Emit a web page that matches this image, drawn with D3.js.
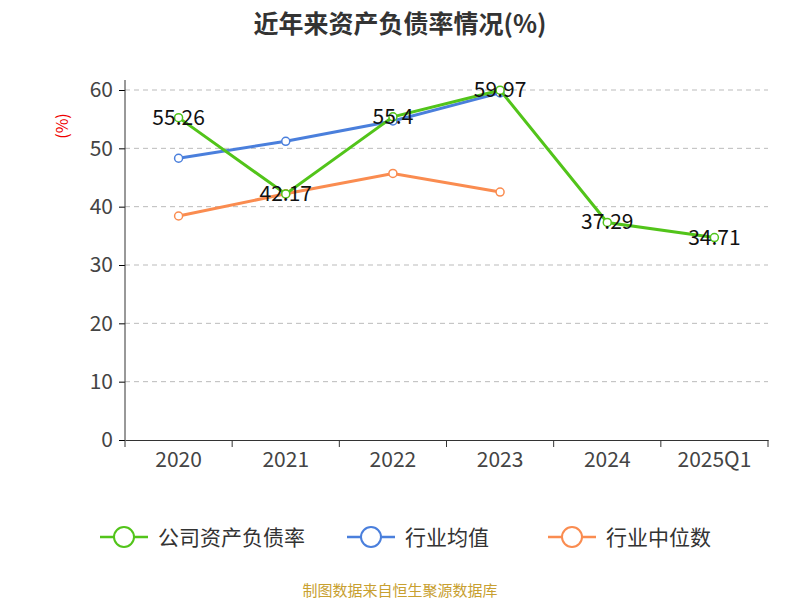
<!DOCTYPE html>
<html><head><meta charset="utf-8">
<script src="https://cdn.jsdelivr.net/npm/d3@7"></script>
<style>body{margin:0;background:#fff}text{font-family:"Noto Sans CJK SC","Noto Sans",sans-serif}</style>
</head><body><svg id="c" width="800" height="600"></svg>
<script>
const categories=["2020","2021","2022","2023","2024","2025Q1"];
const companyValues=[55.26,42.17,55.4,59.97,37.29,34.71];
const industryAvg=[48.3,51.2,54.7,59.5];
const industryMedian=[38.4,42.2,45.7,42.5];
const yTicks=[0,10,20,30,40,50,60];
const seriesNames=["公司资产负债率","行业均值","行业中位数"];
const colors=["#52c41a","#4a7fdc","#fa8c50"];

const svg=d3.select("#c");
const L=125,R=768,T=90,B=440;
const x=d3.scaleBand().domain(categories).range([L,R]);
const y=d3.scaleLinear().domain([0,60]).range([B,T]);
svg.append("text").attr("x",400).attr("y",33).attr("text-anchor","middle").attr("font-size",25).attr("font-weight","bold").attr("fill","#333").text("近年来资产负债率情况(%)");
svg.append("text").attr("transform","translate(68,126) rotate(-90)").attr("text-anchor","middle").attr("font-size",16).attr("fill","#e00").text("(%)");
yTicks.forEach(t=>{
 if(t>0) svg.append("line").attr("x1",L).attr("x2",R).attr("y1",y(t)).attr("y2",y(t)).attr("stroke","#bbb").attr("stroke-dasharray","5,4");
});
const ya=svg.append("g").attr("transform",`translate(${L},0)`).call(d3.axisLeft(y).tickValues(yTicks).tickSize(6).tickPadding(6));
ya.select(".domain").remove();
svg.append("line").attr("x1",L).attr("x2",L).attr("y1",T-10).attr("y2",B).attr("stroke","#333");
ya.selectAll("text").attr("font-size",21).attr("fill","#444");
const xa=svg.append("g").attr("transform",`translate(0,${B})`).call(d3.axisBottom(x).tickSizeOuter(0).tickSize(0).tickPadding(12));
xa.selectAll("text").attr("font-size",21).attr("fill","#444");
xa.select(".domain").attr("stroke","#333");
categories.concat([null]).forEach((c,i)=>{
 const xx=i<categories.length?x(c):R;
 svg.append("line").attr("x1",xx).attr("x2",xx).attr("y1",B).attr("y2",B+7).attr("stroke","#333");
});
const cx=(i)=>x(categories[i])+x.bandwidth()/2;
function series(vals,col){
 svg.append("path").datum(vals).attr("fill","none").attr("stroke",col).attr("stroke-width",3)
  .attr("d",d3.line().x((d,i)=>cx(i)).y(d=>y(d)));
 svg.selectAll(null).data(vals).enter().append("circle").attr("cx",(d,i)=>cx(i)).attr("cy",d=>y(d)).attr("r",4).attr("fill","#fff").attr("stroke",col).attr("stroke-width",1.5);
}
series(industryMedian,colors[2]);
series(industryAvg,colors[1]);
series(companyValues,colors[0]);
svg.selectAll(null).data(companyValues).enter().append("text").attr("x",(d,i)=>cx(i)).attr("y",d=>y(d)+7).attr("text-anchor","middle").attr("font-size",21).attr("fill","#111").text(d=>d);
const lx=[100,347,548];
seriesNames.forEach((n,i)=>{
 const g=svg.append("g").attr("transform",`translate(${lx[i]},537)`);
 g.append("line").attr("x1",0).attr("x2",48).attr("stroke",colors[i]).attr("stroke-width",2.5);
 g.append("circle").attr("cx",24).attr("r",10).attr("fill","#fff").attr("stroke",colors[i]).attr("stroke-width",2);
 g.append("text").attr("x",58).attr("y",8).attr("font-size",21).attr("fill","#333").text(n);
});
svg.append("text").attr("x",400).attr("y",596).attr("text-anchor","middle").attr("font-size",15).attr("fill","#c8a030").text("制图数据来自恒生聚源数据库");
</script></body></html>
